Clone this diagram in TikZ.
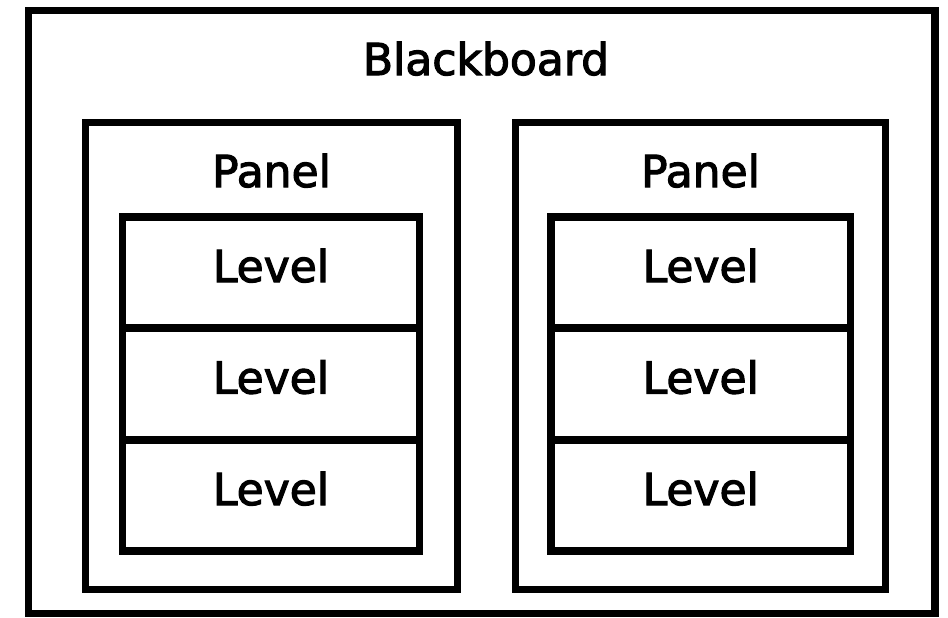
\documentclass[tikz,border=0pt]{standalone}
\usepackage{fontspec}
\setmainfont{DejaVu Sans}[FakeBold=2.5]
\begin{document}
\begin{tikzpicture}[x=1pt,y=-1pt,
  box/.style={draw=black,line width=7.5pt,inner sep=0pt,outer sep=0pt},
  lbl/.style={anchor=base,inner sep=0pt,font=\fontsize{44}{50}\selectfont}]
\fill[white] (0,0) rectangle (948,618);
\useasboundingbox (0,0) rectangle (948,618);
% outer blackboard
\node[box,minimum width=906.5pt,minimum height=603pt] (bb) at (481.75,312) {};
\node[lbl] (bbt) at (486,75) {Blackboard};
% left panel
\node[box,minimum width=372pt,minimum height=467pt] (p1) at (271.5,356) {};
\node[lbl] (p1t) at (271.5,187) {Panel};
\node[box,minimum width=297pt,minimum height=111pt] (l11) at (271,272.5) {};
\node[box,minimum width=297pt,minimum height=112pt] (l12) at (271,384) {};
\node[box,minimum width=297pt,minimum height=111pt] (l13) at (271,495.5) {};
\node[lbl] (l11t) at (271,282) {Level};
\node[lbl] (l12t) at (271,393.5) {Level};
\node[lbl] (l13t) at (271,505) {Level};
% right panel
\node[box,minimum width=370pt,minimum height=467pt] (p2) at (700.5,356) {};
\node[lbl] (p2t) at (700.5,187) {Panel};
\node[box,minimum width=299.5pt,minimum height=111pt] (l21) at (700.75,272.5) {};
\node[box,minimum width=299.5pt,minimum height=112pt] (l22) at (700.75,384) {};
\node[box,minimum width=299.5pt,minimum height=111pt] (l23) at (700.75,495.5) {};
\node[lbl] (l21t) at (700.75,282) {Level};
\node[lbl] (l22t) at (700.75,393.5) {Level};
\node[lbl] (l23t) at (700.75,505) {Level};
\end{tikzpicture}
\end{document}
